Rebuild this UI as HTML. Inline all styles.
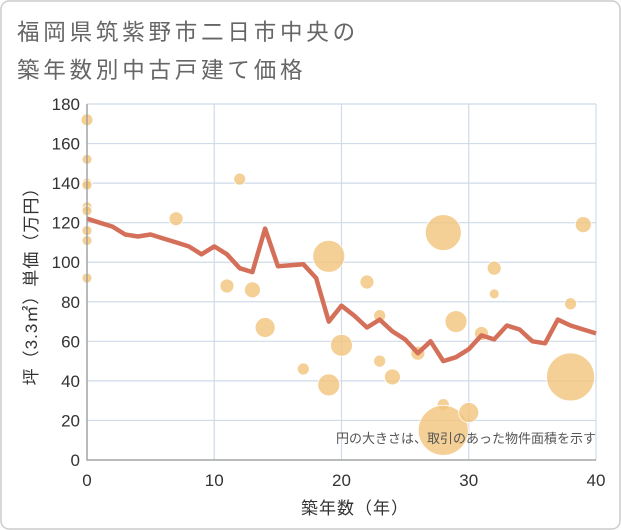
<!DOCTYPE html>
<html><head><meta charset="utf-8"><style>
html,body{margin:0;padding:0;background:#fff;}
svg{display:block;font-family:"Liberation Sans","Noto Sans CJK JP",sans-serif;}
</style></head><body>
<svg id="chart" width="621" height="530" viewBox="0 0 621 530">
<rect x="1" y="1" width="619" height="528" rx="8" fill="#fff" stroke="#ccc" stroke-width="1.5"/>
<text x="17" y="40" font-size="22.5" fill="#666" letter-spacing="3.8">福岡県筑紫野市二日市中央の</text>
<text x="17" y="78" font-size="22.5" fill="#666" letter-spacing="3.8">築年数別中古戸建て価格</text>
<g id="grid"></g>
<g id="bubbles"></g>
<g id="line"></g>
<g id="axes"></g>
<text x="596" y="443" font-size="13" fill="#555" text-anchor="end">円の大きさは、取引のあった物件面積を示す</text>
<text x="355" y="514" font-size="17" fill="#333" text-anchor="middle" letter-spacing="1">築年数（年）</text>
<text transform="translate(37,282) rotate(-90)" font-size="17" fill="#333" text-anchor="middle" letter-spacing="1">坪（3.3㎡）単価（万円）</text>
</svg>
<script>
const xTicks=[0,10,20,30,40];
const yTicks=[0,20,40,60,80,100,120,140,160,180];
const lineYears=[0,1,2,3,4,5,6,7,8,9,10,11,12,13,14,15,16,17,18,19,20,21,22,23,24,25,26,27,28,29,30,31,32,33,34,35,36,37,38,39,40];
const linePrices=[122,120,118,114,113,114,112,110,108,104,108,104,97,95,117,98,98.5,99,92,70,78,73,67,71,65,61,54,60,50,52,56,63,61,68,66,60,59,71,68,66,64];
const bubbleYears=[0,0,0,0,0,0,0,0,0,7,12,11,13,14,17,19,19,20,22,23,23,24,26,28,28,28,29,30,31,32,32,38,38,39];
const bubblePrices=[172,152,140,139,128,126,116,111,92,122,142,88,86,67,46,38,103,58,90,73,50,42,54,115,28,15,70,24,64,97,84,79,42,119];
const bubbleAreas=[36,25,25,25,25,25,25,25,25,49,36,49,64,100,36,121,256,121,49,36,36,64,49,324,36,625,121,100,49,49,25,36,576,64];
const X0=87,X1=596,Y0=460,Y1=104;
const xs=v=>X0+(v-0)/40*(X1-X0);
const ys=v=>Y0-(v-0)/180*(Y0-Y1);
const NS="http://www.w3.org/2000/svg";
function mk(t,p,a){const e=document.createElementNS(NS,t);for(const k in a)e.setAttribute(k,a[k]);p.appendChild(e);return e;}
const grid=document.getElementById('grid'),axes=document.getElementById('axes');
yTicks.forEach(v=>{
 const l=mk('line',grid,{x1:X0,x2:X1,y1:ys(v),y2:ys(v),stroke:'#cfdbe8','stroke-width':1.2});
 
 
 const t=mk('text',axes,{x:X0-7,y:ys(v)+6,'font-size':17,fill:'#333','text-anchor':'end'});
 t.textContent=v;
 
 
});
xTicks.forEach(v=>{
 const l=mk('line',grid,{x1:xs(v),x2:xs(v),y1:Y1,y2:Y0,stroke:'#cfdbe8','stroke-width':1.2});
 
 
 const t=mk('text',axes,{x:xs(v),y:Y0+26,'font-size':17,fill:'#333','text-anchor':'middle'});
 t.textContent=v;
 
 
});
const ax=mk('path',axes,{d:`M${X0},${Y1}V${Y0}H${X1}`,fill:'none',stroke:'#999','stroke-width':1.3});


const bg=document.getElementById('bubbles');
bubbleYears.forEach((yr,i)=>{
 const c=mk('circle',bg,{cx:xs(yr),cy:ys(bubblePrices[i]),r:Math.sqrt(bubbleAreas[i]),fill:'#f3c47c','fill-opacity':0.8,stroke:'#fff','stroke-width':0.8});
 
 
});
const lg=document.getElementById('line');
const d=lineYears.map((yr,i)=>(i?'L':'M')+xs(yr).toFixed(1)+','+ys(linePrices[i]).toFixed(1)).join('');
const p=mk('path',lg,{d:d,fill:'none',stroke:'#d4705a','stroke-width':4.5,'stroke-linejoin':'round'});


</script>
</body></html>
